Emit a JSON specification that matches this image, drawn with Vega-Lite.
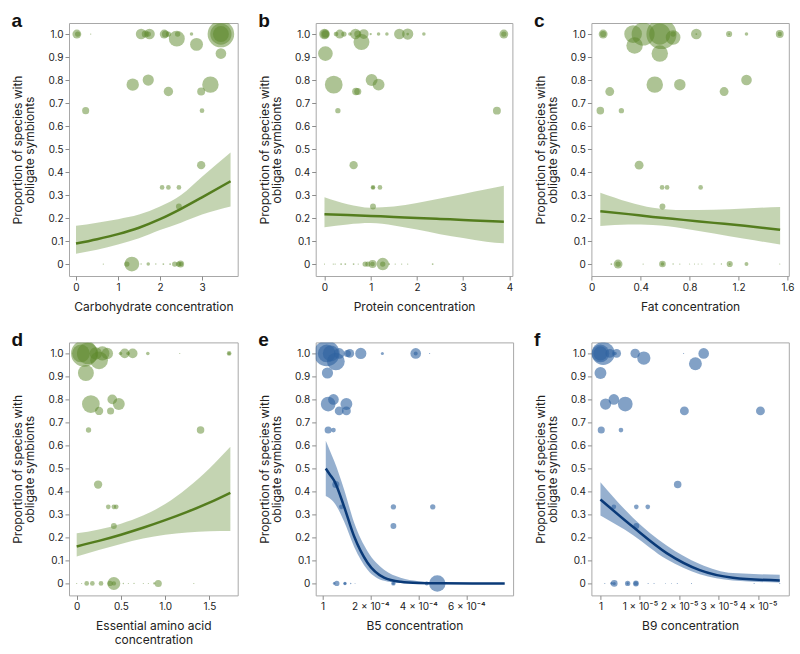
{
  "$schema": "https://vega.github.io/schema/vega-lite/v6.json",
  "autosize": {"type": "pad"},
  "padding": {"left": 11, "top": 11, "right": 5, "bottom": 5},
  "background": "white",
  "config": {
    "font": "Inter",
    "view": {"stroke": "#a8a8a8", "strokeWidth": 1},
    "axis": {"domain": false, "grid": false, "ticks": true, "tickSize": 4, "tickColor": "#8c8c8c", "labelFontSize": 10, "labelColor": "#222", "labelPadding": 2, "titleFontSize": 12, "titleFontWeight": "normal", "titleColor": "#222", "labelFont": "Inter", "titleFont": "Inter", "labelOverlap": false, "labelFlush": false},
    "axisY": {"titlePadding": 11, "titleLineHeight": 12},
    "axisX": {"titlePadding": 9, "titleLineHeight": 14},
    "title": {"anchor": "start", "frame": "bounds", "fontSize": 19, "fontWeight": "bold", "font": "Liberation Sans", "offset": -8, "baseline": "alphabetic", "color": "#111"}
  },
  "datasets": {
    "pts": [
      {"p":"a","x":0.02,"y":1,"n":25},{"p":"a","x":0.04,"y":1,"n":9},{"p":"a","x":0.35,"y":1,"n":0.5},{"p":"a","x":1.55,"y":1,"n":36},{"p":"a","x":1.65,"y":1,"n":16},{"p":"a","x":1.75,"y":1,"n":36},{"p":"a","x":1.72,"y":1,"n":9},{"p":"a","x":2.1,"y":1,"n":25},{"p":"a","x":2.13,"y":1,"n":16},{"p":"a","x":2.2,"y":1,"n":9},{"p":"a","x":2.4,"y":0.98,"n":81},{"p":"a","x":2.42,"y":1,"n":9},{"p":"a","x":2.75,"y":1,"n":4},{"p":"a","x":2.87,"y":0.955,"n":53},{"p":"a","x":3.45,"y":1,"n":225},{"p":"a","x":3.45,"y":1,"n":144},{"p":"a","x":3.45,"y":1,"n":81},{"p":"a","x":3.45,"y":0.915,"n":36},
      {"p":"a","x":1.35,"y":0.78,"n":49},{"p":"a","x":1.72,"y":0.8,"n":40},{"p":"a","x":2.2,"y":0.75,"n":28},{"p":"a","x":2.98,"y":0.75,"n":20},{"p":"a","x":3.2,"y":0.78,"n":86},
      {"p":"a","x":0.23,"y":0.667,"n":16},{"p":"a","x":3.0,"y":0.667,"n":7},{"p":"a","x":2.98,"y":0.43,"n":22},{"p":"a","x":2.05,"y":0.333,"n":7},{"p":"a","x":2.2,"y":0.333,"n":7},{"p":"a","x":2.45,"y":0.333,"n":7},{"p":"a","x":2.45,"y":0.25,"n":11},
      {"p":"a","x":0.65,"y":0,"n":0.5},{"p":"a","x":1.21,"y":0,"n":9},{"p":"a","x":1.33,"y":0,"n":69},{"p":"a","x":1.55,"y":0,"n":0.6},{"p":"a","x":1.72,"y":0,"n":4},{"p":"a","x":1.9,"y":0,"n":0.6},{"p":"a","x":2.08,"y":0,"n":1},{"p":"a","x":2.24,"y":0,"n":1},{"p":"a","x":2.35,"y":0,"n":9},{"p":"a","x":2.44,"y":0,"n":9},{"p":"a","x":2.49,"y":0,"n":16},{"p":"a","x":2.5,"y":0,"n":6},

      {"p":"b","x":0,"y":1,"n":36},{"p":"b","x":0.02,"y":1,"n":16},{"p":"b","x":0.01,"y":1,"n":25},{"p":"b","x":0.25,"y":1,"n":7},{"p":"b","x":0.33,"y":1,"n":25},{"p":"b","x":0.42,"y":1,"n":9},{"p":"b","x":0.55,"y":1,"n":4},{"p":"b","x":0.67,"y":1,"n":36},{"p":"b","x":0.72,"y":1,"n":16},{"p":"b","x":0.8,"y":0.965,"n":81},{"p":"b","x":0.85,"y":1,"n":30},{"p":"b","x":1.0,"y":1,"n":1.7},{"p":"b","x":1.17,"y":1,"n":4},{"p":"b","x":1.35,"y":1,"n":4},{"p":"b","x":1.62,"y":1,"n":36},{"p":"b","x":1.8,"y":1,"n":40},{"p":"b","x":1.8,"y":1,"n":2.3},{"p":"b","x":2.15,"y":1,"n":4},{"p":"b","x":3.88,"y":1,"n":25},{"p":"b","x":3.88,"y":1,"n":9},
      {"p":"b","x":0.02,"y":0.915,"n":69},{"p":"b","x":0.2,"y":0.78,"n":100},{"p":"b","x":1.02,"y":0.8,"n":45},{"p":"b","x":1.17,"y":0.78,"n":45},{"p":"b","x":0.68,"y":0.75,"n":18},{"p":"b","x":0.72,"y":0.75,"n":16},{"p":"b","x":0.29,"y":0.667,"n":9},{"p":"b","x":3.73,"y":0.667,"n":20},{"p":"b","x":0.63,"y":0.43,"n":22},{"p":"b","x":1.05,"y":0.333,"n":7},{"p":"b","x":1.05,"y":0.333,"n":4},{"p":"b","x":1.2,"y":0.333,"n":7},{"p":"b","x":1.05,"y":0.25,"n":11},
      {"p":"b","x":0,"y":0,"n":0.5},{"p":"b","x":0.19,"y":0,"n":0.5},{"p":"b","x":0.23,"y":0,"n":0.5},{"p":"b","x":0.36,"y":0,"n":1},{"p":"b","x":0.45,"y":0,"n":1},{"p":"b","x":0.63,"y":0,"n":1},{"p":"b","x":0.73,"y":0,"n":0.5},{"p":"b","x":0.88,"y":0,"n":9},{"p":"b","x":0.94,"y":0,"n":9},{"p":"b","x":1.04,"y":0,"n":20},{"p":"b","x":1.04,"y":0,"n":6},{"p":"b","x":1.26,"y":0,"n":49},{"p":"b","x":1.26,"y":0,"n":9},{"p":"b","x":1.4,"y":0,"n":1},{"p":"b","x":1.53,"y":0,"n":0.5},{"p":"b","x":1.67,"y":0,"n":0.5},{"p":"b","x":1.8,"y":0,"n":0.5},{"p":"b","x":2.34,"y":0,"n":1},

      {"p":"c","x":0.093,"y":1,"n":25},{"p":"c","x":0.093,"y":1,"n":12},{"p":"c","x":0.338,"y":1,"n":100},{"p":"c","x":0.35,"y":0.95,"n":86},{"p":"c","x":0.42,"y":1,"n":169},{"p":"c","x":0.556,"y":1,"n":144},{"p":"c","x":0.57,"y":1,"n":289},{"p":"c","x":0.556,"y":0.915,"n":86},{"p":"c","x":0.665,"y":0.985,"n":69},{"p":"c","x":0.665,"y":1,"n":9},{"p":"c","x":0.855,"y":1,"n":36},{"p":"c","x":0.855,"y":1,"n":1},{"p":"c","x":1.123,"y":1,"n":12},{"p":"c","x":1.123,"y":1,"n":1},{"p":"c","x":1.265,"y":1,"n":4},{"p":"c","x":1.537,"y":1,"n":20},{"p":"c","x":1.537,"y":1,"n":6},
      {"p":"c","x":0.515,"y":0.78,"n":86},{"p":"c","x":0.72,"y":0.78,"n":42},{"p":"c","x":1.265,"y":0.8,"n":36},{"p":"c","x":1.082,"y":0.75,"n":25},{"p":"c","x":0.147,"y":0.75,"n":25},{"p":"c","x":0.07,"y":0.667,"n":18},{"p":"c","x":0.242,"y":0.667,"n":9},{"p":"c","x":0.387,"y":0.43,"n":25},{"p":"c","x":0.575,"y":0.333,"n":7},{"p":"c","x":0.616,"y":0.333,"n":7},{"p":"c","x":0.89,"y":0.333,"n":7},{"p":"c","x":0.578,"y":0.25,"n":11},
      {"p":"c","x":0.16,"y":0,"n":1},{"p":"c","x":0.215,"y":0,"n":25},{"p":"c","x":0.215,"y":0,"n":9},{"p":"c","x":0.42,"y":0,"n":0.5},{"p":"c","x":0.578,"y":0,"n":14},{"p":"c","x":0.578,"y":0,"n":4},{"p":"c","x":0.665,"y":0,"n":0.6},{"p":"c","x":0.72,"y":0,"n":0.5},{"p":"c","x":0.8,"y":0,"n":0.4},{"p":"c","x":0.84,"y":0,"n":0.4},{"p":"c","x":0.87,"y":0,"n":0.4},{"p":"c","x":0.9,"y":0,"n":0.4},{"p":"c","x":1.0,"y":0,"n":0.6},{"p":"c","x":1.06,"y":0,"n":0.6},{"p":"c","x":1.128,"y":0,"n":12},{"p":"c","x":1.128,"y":0,"n":1},{"p":"c","x":1.265,"y":0,"n":5},{"p":"c","x":1.537,"y":0,"n":0.4},

      {"p":"d","x":0.086,"y":1,"n":225},{"p":"d","x":0.123,"y":1,"n":144},{"p":"d","x":0.048,"y":1,"n":100},{"p":"d","x":0.104,"y":0.915,"n":81},{"p":"d","x":0.253,"y":0.97,"n":100},{"p":"d","x":0.29,"y":1,"n":64},{"p":"d","x":0.346,"y":1,"n":42},{"p":"d","x":0.216,"y":1,"n":49},{"p":"d","x":0.495,"y":1,"n":4},{"p":"d","x":0.543,"y":1,"n":30},{"p":"d","x":0.58,"y":1,"n":4},{"p":"d","x":0.633,"y":1,"n":30},{"p":"d","x":0.804,"y":1,"n":4},{"p":"d","x":1.165,"y":1,"n":0.4},{"p":"d","x":1.723,"y":1,"n":7},{"p":"d","x":1.723,"y":1,"n":3},
      {"p":"d","x":0.16,"y":0.78,"n":100},{"p":"d","x":0.402,"y":0.8,"n":30},{"p":"d","x":0.476,"y":0.78,"n":45},{"p":"d","x":0.253,"y":0.75,"n":22},{"p":"d","x":0.383,"y":0.75,"n":16},{"p":"d","x":0.134,"y":0.667,"n":9},{"p":"d","x":1.4,"y":0.667,"n":18},{"p":"d","x":0.242,"y":0.43,"n":22},{"p":"d","x":0.357,"y":0.333,"n":7},{"p":"d","x":0.42,"y":0.333,"n":7},{"p":"d","x":0.447,"y":0.333,"n":7},{"p":"d","x":0.42,"y":0.25,"n":11},
      {"p":"d","x":0,"y":0,"n":0.4},{"p":"d","x":0.056,"y":0,"n":0.4},{"p":"d","x":0.113,"y":0,"n":7},{"p":"d","x":0.177,"y":0,"n":7},{"p":"d","x":0.275,"y":0,"n":7},{"p":"d","x":0.377,"y":0,"n":9},{"p":"d","x":0.42,"y":0,"n":53},{"p":"d","x":0.42,"y":0,"n":6},{"p":"d","x":0.527,"y":0,"n":0.6},{"p":"d","x":0.584,"y":0,"n":0.4},{"p":"d","x":0.648,"y":0,"n":0.5},{"p":"d","x":0.753,"y":0,"n":0.4},{"p":"d","x":0.81,"y":0,"n":0.4},{"p":"d","x":0.877,"y":0,"n":1.7},{"p":"d","x":0.922,"y":0,"n":16},{"p":"d","x":1.324,"y":0,"n":0.4},

      {"p":"e","x":0.000018,"y":1,"n":210},{"p":"e","x":0.000018,"y":1,"n":100},{"p":"e","x":0.000056,"y":0.965,"n":100},{"p":"e","x":0.000035,"y":1,"n":81},{"p":"e","x":0.00007,"y":1,"n":36},{"p":"e","x":0.000021,"y":0.915,"n":40},{"p":"e","x":0.000104,"y":1,"n":16},{"p":"e","x":0.000114,"y":1,"n":25},{"p":"e","x":0.00016,"y":1,"n":40},{"p":"e","x":0.00025,"y":1,"n":3},{"p":"e","x":0.000389,"y":1,"n":36},{"p":"e","x":0.000389,"y":1,"n":5},{"p":"e","x":0.000447,"y":1,"n":0.4},
      {"p":"e","x":0.000024,"y":0.78,"n":69},{"p":"e","x":0.000046,"y":0.8,"n":36},{"p":"e","x":0.0001,"y":0.78,"n":45},{"p":"e","x":0.00007,"y":0.75,"n":25},{"p":"e","x":0.0001,"y":0.75,"n":25},{"p":"e","x":0.000024,"y":0.667,"n":16},{"p":"e","x":0.000046,"y":0.667,"n":7},{"p":"e","x":0.000056,"y":0.43,"n":16},{"p":"e","x":0.000079,"y":0.333,"n":7},{"p":"e","x":0.000296,"y":0.333,"n":9},{"p":"e","x":0.00046,"y":0.333,"n":9},{"p":"e","x":0.000296,"y":0.25,"n":11},
      {"p":"e","x":0.000049,"y":0,"n":2.3},{"p":"e","x":0.00006,"y":0,"n":9},{"p":"e","x":0.000094,"y":0,"n":4},{"p":"e","x":0.000094,"y":0,"n":2},{"p":"e","x":0.000118,"y":0,"n":0.6},{"p":"e","x":0.000136,"y":0,"n":0.3},{"p":"e","x":0.000296,"y":0,"n":6},{"p":"e","x":0.000296,"y":0,"n":2},{"p":"e","x":0.000435,"y":0,"n":5},{"p":"e","x":0.000479,"y":0,"n":86},

      {"p":"f","x":0.0,"y":1,"n":100},{"p":"f","x":0.0000007,"y":1,"n":169},{"p":"f","x":0.0,"y":1,"n":64},{"p":"f","x":0.0000024,"y":1,"n":25},{"p":"f","x":0.0000041,"y":1,"n":25},{"p":"f","x":0.0000037,"y":1,"n":4},{"p":"f","x":0.0000088,"y":1,"n":28},{"p":"f","x":0.000011,"y":0.98,"n":56},{"p":"f","x":0.0000211,"y":1,"n":0.4},{"p":"f","x":0.0000241,"y":0.955,"n":53},{"p":"f","x":0.0000262,"y":1,"n":36},{"p":"f","x":0.0,"y":0.915,"n":45},
      {"p":"f","x":0.0000013,"y":0.78,"n":40},{"p":"f","x":0.0000034,"y":0.8,"n":36},{"p":"f","x":0.0000063,"y":0.78,"n":69},{"p":"f","x":0.0000213,"y":0.75,"n":25},{"p":"f","x":0.0000406,"y":0.75,"n":25},{"p":"f","x":0.0000002,"y":0.667,"n":16},{"p":"f","x":0.0000052,"y":0.667,"n":7},{"p":"f","x":0.0000196,"y":0.43,"n":18},{"p":"f","x":0.0000034,"y":0.333,"n":7},{"p":"f","x":0.0000091,"y":0.333,"n":7},{"p":"f","x":0.000012,"y":0.333,"n":7},{"p":"f","x":0.0000091,"y":0.25,"n":11},
      {"p":"f","x":0.0000011,"y":0,"n":0.4},{"p":"f","x":0.0000028,"y":0,"n":2.3},{"p":"f","x":0.0000035,"y":0,"n":14},{"p":"f","x":0.0000035,"y":0,"n":3},{"p":"f","x":0.0000069,"y":0,"n":9},{"p":"f","x":0.0000069,"y":0,"n":2},{"p":"f","x":0.000009,"y":0,"n":11},{"p":"f","x":0.000009,"y":0,"n":6},{"p":"f","x":0.0000121,"y":0,"n":0.4},{"p":"f","x":0.0000136,"y":0,"n":0.4},{"p":"f","x":0.0000165,"y":0,"n":0.3},{"p":"f","x":0.000018,"y":0,"n":0.3},{"p":"f","x":0.0000195,"y":0,"n":0.4},{"p":"f","x":0.0000231,"y":0,"n":0.4},{"p":"f","x":0.000039,"y":0,"n":0.4},{"p":"f","x":0.0000455,"y":0,"n":0.4}
    ],
    "fit": [
      {"p":"a","x":0,"y":0.089,"lo":0.045,"hi":0.166},{"p":"a","x":0.5,"y":0.108,"lo":0.062,"hi":0.18},{"p":"a","x":1,"y":0.13,"lo":0.085,"hi":0.195},{"p":"a","x":1.5,"y":0.158,"lo":0.112,"hi":0.215},{"p":"a","x":2,"y":0.195,"lo":0.148,"hi":0.25},{"p":"a","x":2.5,"y":0.24,"lo":0.18,"hi":0.3},{"p":"a","x":3,"y":0.29,"lo":0.215,"hi":0.38},{"p":"a","x":3.68,"y":0.36,"lo":0.25,"hi":0.485},
      {"p":"b","x":0,"y":0.217,"lo":0.16,"hi":0.29},{"p":"b","x":0.5,"y":0.213,"lo":0.172,"hi":0.26},{"p":"b","x":1,"y":0.209,"lo":0.178,"hi":0.245},{"p":"b","x":1.5,"y":0.205,"lo":0.168,"hi":0.25},{"p":"b","x":2,"y":0.2,"lo":0.15,"hi":0.265},{"p":"b","x":2.5,"y":0.196,"lo":0.13,"hi":0.285},{"p":"b","x":3,"y":0.192,"lo":0.113,"hi":0.305},{"p":"b","x":3.5,"y":0.187,"lo":0.097,"hi":0.325},{"p":"b","x":3.88,"y":0.184,"lo":0.09,"hi":0.34},
      {"p":"c","x":0.07,"y":0.23,"lo":0.165,"hi":0.31},{"p":"c","x":0.3,"y":0.217,"lo":0.172,"hi":0.27},{"p":"c","x":0.5,"y":0.205,"lo":0.17,"hi":0.245},{"p":"c","x":0.75,"y":0.192,"lo":0.155,"hi":0.235},{"p":"c","x":1.0,"y":0.179,"lo":0.133,"hi":0.236},{"p":"c","x":1.25,"y":0.166,"lo":0.11,"hi":0.242},{"p":"c","x":1.54,"y":0.149,"lo":0.085,"hi":0.248},
      {"p":"d","x":0,"y":0.161,"lo":0.117,"hi":0.218},{"p":"d","x":0.25,"y":0.185,"lo":0.145,"hi":0.235},{"p":"d","x":0.5,"y":0.212,"lo":0.172,"hi":0.26},{"p":"d","x":0.75,"y":0.242,"lo":0.195,"hi":0.295},{"p":"d","x":1.0,"y":0.275,"lo":0.212,"hi":0.345},{"p":"d","x":1.25,"y":0.311,"lo":0.222,"hi":0.415},{"p":"d","x":1.5,"y":0.351,"lo":0.227,"hi":0.5},{"p":"d","x":1.737,"y":0.394,"lo":0.228,"hi":0.594},
      {"p":"e","x":0.000014,"y":0.5,"lo":0.38,"hi":0.62},{"p":"e","x":0.00003,"y":0.475,"lo":0.37,"hi":0.58},{"p":"e","x":0.00005,"y":0.445,"lo":0.35,"hi":0.53},{"p":"e","x":0.00009,"y":0.335,"lo":0.27,"hi":0.41},{"p":"e","x":0.000132,"y":0.205,"lo":0.16,"hi":0.265},{"p":"e","x":0.000188,"y":0.09,"lo":0.06,"hi":0.14},{"p":"e","x":0.000257,"y":0.025,"lo":0.012,"hi":0.06},{"p":"e","x":0.000326,"y":0.007,"lo":0.002,"hi":0.025},{"p":"e","x":0.0004,"y":0.002,"lo":0.0,"hi":0.01},{"p":"e","x":0.0005,"y":0.0005,"lo":0,"hi":0.003},{"p":"e","x":0.00076,"y":0,"lo":0,"hi":0.0005},
      {"p":"f","x":0,"y":0.365,"lo":0.295,"hi":0.44},{"p":"f","x":0.0000083,"y":0.245,"lo":0.21,"hi":0.285},{"p":"f","x":0.0000168,"y":0.132,"lo":0.105,"hi":0.165},{"p":"f","x":0.0000252,"y":0.058,"lo":0.04,"hi":0.085},{"p":"f","x":0.0000336,"y":0.025,"lo":0.013,"hi":0.045},{"p":"f","x":0.0000455,"y":0.013,"lo":0.004,"hi":0.038}
    ]
  },
  "columns": 3,
  "spacing": {"row": 66.4, "column": 77.7},
  "bounds": "flush",
  "align": "each",
  "resolve": {"scale": {"x": "independent", "y": "independent", "size": "independent"}},
  "concat": [
    {
      "width": 168.7, "height": 253, "title": {"text": "a"},
      "encoding": {
        "x": {"field": "x", "type": "quantitative", "scale": {"domain": [-0.167, 3.85], "nice": false, "zero": false}, "axis": {"values": [0,1,2,3], "labelExpr": "format(datum.value,'d')", "title": "Carbohydrate concentration"}},
        "y": {"field": "y", "type": "quantitative", "scale": {"domain": [-0.052, 1.048], "nice": false, "zero": false}, "axis": {"values": [0,0.1,0.2,0.3,0.4,0.5,0.6,0.7,0.8,0.9,1], "labelExpr": "datum.value == 0 ? '0' : format(datum.value, '.1f')", "title": ["Proportion of species with", "obligate symbionts"]}}
      },
      "layer": [
        {"data": {"name": "fit"}, "transform": [{"filter": "datum.p === 'a'"}], "mark": {"type": "area", "color": "#5c8729", "opacity": 0.36, "interpolate": "monotone"}, "encoding": {"y": {"field": "lo", "type": "quantitative", "scale": {"domain": [-0.052, 1.048], "nice": false, "zero": false}}, "y2": {"field": "hi"}}},
        {"data": {"name": "pts"}, "transform": [{"filter": "datum.p === 'a'"}], "mark": {"type": "circle", "color": "#5c8729", "opacity": 0.5, "clip": true}, "encoding": {"size": {"field": "n", "type": "quantitative", "scale": {"type": "linear", "domain": [0, 400], "range": [0, 1256.6], "zero": true}, "legend": null}}},
        {"data": {"name": "fit"}, "transform": [{"filter": "datum.p === 'a'"}], "mark": {"type": "line", "color": "#547d1e", "strokeWidth": 2.5, "interpolate": "monotone"}, "encoding": {}}
      ]
    },
    {
      "width": 196.7, "height": 253, "title": {"text": "b"},
      "encoding": {
        "x": {"field": "x", "type": "quantitative", "scale": {"domain": [-0.19, 4.065], "nice": false, "zero": false}, "axis": {"values": [0,1,2,3,4], "labelExpr": "format(datum.value,'d')", "title": "Protein concentration"}},
        "y": {"field": "y", "type": "quantitative", "scale": {"domain": [-0.052, 1.048], "nice": false, "zero": false}, "axis": {"values": [0,0.1,0.2,0.3,0.4,0.5,0.6,0.7,0.8,0.9,1], "labelExpr": "datum.value == 0 ? '0' : format(datum.value, '.1f')", "title": ["Proportion of species with", "obligate symbionts"]}}
      },
      "layer": [
        {"data": {"name": "fit"}, "transform": [{"filter": "datum.p === 'b'"}], "mark": {"type": "area", "color": "#5c8729", "opacity": 0.36, "interpolate": "monotone"}, "encoding": {"y": {"field": "lo", "type": "quantitative", "scale": {"domain": [-0.052, 1.048], "nice": false, "zero": false}}, "y2": {"field": "hi"}}},
        {"data": {"name": "pts"}, "transform": [{"filter": "datum.p === 'b'"}], "mark": {"type": "circle", "color": "#5c8729", "opacity": 0.5, "clip": true}, "encoding": {"size": {"field": "n", "type": "quantitative", "scale": {"type": "linear", "domain": [0, 400], "range": [0, 1256.6], "zero": true}, "legend": null}}},
        {"data": {"name": "fit"}, "transform": [{"filter": "datum.p === 'b'"}], "mark": {"type": "line", "color": "#547d1e", "strokeWidth": 2.5, "interpolate": "monotone"}, "encoding": {}}
      ]
    },
    {
      "width": 197.4, "height": 253, "title": {"text": "c"},
      "encoding": {
        "x": {"field": "x", "type": "quantitative", "scale": {"domain": [-0.003, 1.611], "nice": false, "zero": false}, "axis": {"values": [0,0.4,0.8,1.2,1.6], "labelExpr": "datum.value == 0 ? '0' : format(datum.value, '.1f')", "title": "Fat concentration"}},
        "y": {"field": "y", "type": "quantitative", "scale": {"domain": [-0.052, 1.048], "nice": false, "zero": false}, "axis": {"values": [0,0.1,0.2,0.3,0.4,0.5,0.6,0.7,0.8,0.9,1], "labelExpr": "datum.value == 0 ? '0' : format(datum.value, '.1f')", "title": ["Proportion of species with", "obligate symbionts"]}}
      },
      "layer": [
        {"data": {"name": "fit"}, "transform": [{"filter": "datum.p === 'c'"}], "mark": {"type": "area", "color": "#5c8729", "opacity": 0.36, "interpolate": "monotone"}, "encoding": {"y": {"field": "lo", "type": "quantitative", "scale": {"domain": [-0.052, 1.048], "nice": false, "zero": false}}, "y2": {"field": "hi"}}},
        {"data": {"name": "pts"}, "transform": [{"filter": "datum.p === 'c'"}], "mark": {"type": "circle", "color": "#5c8729", "opacity": 0.5, "clip": true}, "encoding": {"size": {"field": "n", "type": "quantitative", "scale": {"type": "linear", "domain": [0, 400], "range": [0, 1256.6], "zero": true}, "legend": null}}},
        {"data": {"name": "fit"}, "transform": [{"filter": "datum.p === 'c'"}], "mark": {"type": "line", "color": "#547d1e", "strokeWidth": 2.5, "interpolate": "monotone"}, "encoding": {}}
      ]
    },
    {
      "width": 168.7, "height": 253, "title": {"text": "d"},
      "encoding": {
        "x": {"field": "x", "type": "quantitative", "scale": {"domain": [-0.087, 1.82], "nice": false, "zero": false}, "axis": {"values": [0,0.5,1,1.5], "labelExpr": "datum.value == 0 ? '0' : format(datum.value, '.1f')", "title": ["Essential amino acid", "concentration"]}},
        "y": {"field": "y", "type": "quantitative", "scale": {"domain": [-0.052, 1.048], "nice": false, "zero": false}, "axis": {"values": [0,0.1,0.2,0.3,0.4,0.5,0.6,0.7,0.8,0.9,1], "labelExpr": "datum.value == 0 ? '0' : format(datum.value, '.1f')", "title": ["Proportion of species with", "obligate symbionts"]}}
      },
      "layer": [
        {"data": {"name": "fit"}, "transform": [{"filter": "datum.p === 'd'"}], "mark": {"type": "area", "color": "#5c8729", "opacity": 0.36, "interpolate": "monotone"}, "encoding": {"y": {"field": "lo", "type": "quantitative", "scale": {"domain": [-0.052, 1.048], "nice": false, "zero": false}}, "y2": {"field": "hi"}}},
        {"data": {"name": "pts"}, "transform": [{"filter": "datum.p === 'd'"}], "mark": {"type": "circle", "color": "#5c8729", "opacity": 0.5, "clip": true}, "encoding": {"size": {"field": "n", "type": "quantitative", "scale": {"type": "linear", "domain": [0, 400], "range": [0, 1256.6], "zero": true}, "legend": null}}},
        {"data": {"name": "fit"}, "transform": [{"filter": "datum.p === 'd'"}], "mark": {"type": "line", "color": "#547d1e", "strokeWidth": 2.5, "interpolate": "monotone"}, "encoding": {}}
      ]
    },
    {
      "width": 197.4, "height": 253, "title": {"text": "e"},
      "encoding": {
        "x": {"field": "x", "type": "quantitative", "scale": {"domain": [-0.000028, 0.000795], "nice": false, "zero": false}, "axis": {"values": [0,0.0002,0.0004,0.0006], "labelExpr": "datum.value == 0 ? '1' : format(datum.value*10000, 'd') + ' × 10⁻⁴'", "title": "B5 concentration"}},
        "y": {"field": "y", "type": "quantitative", "scale": {"domain": [-0.052, 1.048], "nice": false, "zero": false}, "axis": {"values": [0,0.1,0.2,0.3,0.4,0.5,0.6,0.7,0.8,0.9,1], "labelExpr": "datum.value == 0 ? '0' : format(datum.value, '.1f')", "title": ["Proportion of species with", "obligate symbionts"]}}
      },
      "layer": [
        {"data": {"name": "fit"}, "transform": [{"filter": "datum.p === 'e'"}], "mark": {"type": "area", "color": "#2e62a0", "opacity": 0.5, "interpolate": "monotone"}, "encoding": {"y": {"field": "lo", "type": "quantitative", "scale": {"domain": [-0.052, 1.048], "nice": false, "zero": false}}, "y2": {"field": "hi"}}},
        {"data": {"name": "pts"}, "transform": [{"filter": "datum.p === 'e'"}], "mark": {"type": "circle", "color": "#2e62a0", "opacity": 0.6, "clip": true}, "encoding": {"size": {"field": "n", "type": "quantitative", "scale": {"type": "linear", "domain": [0, 400], "range": [0, 1256.6], "zero": true}, "legend": null}}},
        {"data": {"name": "fit"}, "transform": [{"filter": "datum.p === 'e'"}], "mark": {"type": "line", "color": "#0a3a78", "strokeWidth": 2.5, "interpolate": "monotone"}, "encoding": {}}
      ]
    },
    {
      "width": 197.4, "height": 253, "title": {"text": "f"},
      "encoding": {
        "x": {"field": "x", "type": "quantitative", "scale": {"domain": [-0.0000023, 0.0000478], "nice": false, "zero": false}, "axis": {"values": [0,0.00001,0.00002,0.00003,0.00004], "labelExpr": "datum.value == 0 ? '1' : format(datum.value*100000, 'd') + ' × 10⁻⁵'", "title": "B9 concentration"}},
        "y": {"field": "y", "type": "quantitative", "scale": {"domain": [-0.052, 1.048], "nice": false, "zero": false}, "axis": {"values": [0,0.1,0.2,0.3,0.4,0.5,0.6,0.7,0.8,0.9,1], "labelExpr": "datum.value == 0 ? '0' : format(datum.value, '.1f')", "title": ["Proportion of species with", "obligate symbionts"]}}
      },
      "layer": [
        {"data": {"name": "fit"}, "transform": [{"filter": "datum.p === 'f'"}], "mark": {"type": "area", "color": "#2e62a0", "opacity": 0.5, "interpolate": "monotone"}, "encoding": {"y": {"field": "lo", "type": "quantitative", "scale": {"domain": [-0.052, 1.048], "nice": false, "zero": false}}, "y2": {"field": "hi"}}},
        {"data": {"name": "pts"}, "transform": [{"filter": "datum.p === 'f'"}], "mark": {"type": "circle", "color": "#2e62a0", "opacity": 0.6, "clip": true}, "encoding": {"size": {"field": "n", "type": "quantitative", "scale": {"type": "linear", "domain": [0, 400], "range": [0, 1256.6], "zero": true}, "legend": null}}},
        {"data": {"name": "fit"}, "transform": [{"filter": "datum.p === 'f'"}], "mark": {"type": "line", "color": "#0a3a78", "strokeWidth": 2.5, "interpolate": "monotone"}, "encoding": {}}
      ]
    }
  ]
}
